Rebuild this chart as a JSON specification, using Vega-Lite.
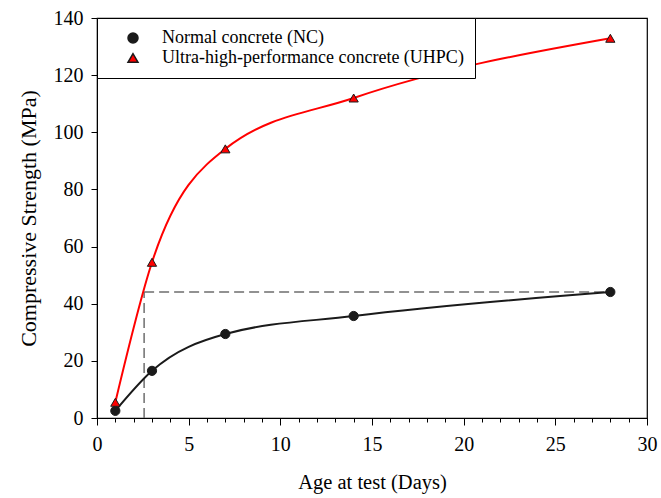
{
  "$schema": "https://vega.github.io/schema/vega-lite/v6.json",
  "width": 550,
  "height": 400,
  "autosize": {"type": "none"},
  "padding": {"left": 97, "top": 18, "right": 14, "bottom": 80},
  "background": "white",
  "config": {
    "font": "Liberation Serif",
    "view": {"stroke": "black", "strokeWidth": 1.2},
    "axis": {
      "labelFont": "Liberation Serif",
      "titleFont": "Liberation Serif",
      "labelColor": "black",
      "titleColor": "black",
      "domainColor": "black",
      "tickColor": "black",
      "titleFontWeight": "normal",
      "grid": false
    },
    "legend": {
      "orient": "top-left",
      "offset": 0,
      "padding": 11,
      "strokeColor": "black",
      "fillColor": "white",
      "cornerRadius": 0,
      "labelFont": "Liberation Serif",
      "labelFontSize": 18,
      "labelColor": "black",
      "labelLimit": 400,
      "symbolSize": 100,
      "symbolOffset": 16,
      "labelOffset": 20,
      "rowPadding": 2
    }
  },
  "data": {
    "values": [
      {"age": 1, "strength": 2.5, "type": "Normal concrete (NC)"},
      {"age": 3, "strength": 16.5, "type": "Normal concrete (NC)"},
      {"age": 7, "strength": 29.4, "type": "Normal concrete (NC)"},
      {"age": 14, "strength": 35.7, "type": "Normal concrete (NC)"},
      {"age": 28, "strength": 44.1, "type": "Normal concrete (NC)"},
      {"age": 1, "strength": 5.5, "type": "Ultra-high-performance concrete (UHPC)"},
      {"age": 3, "strength": 54.5, "type": "Ultra-high-performance concrete (UHPC)"},
      {"age": 7, "strength": 94.2, "type": "Ultra-high-performance concrete (UHPC)"},
      {"age": 14, "strength": 112, "type": "Ultra-high-performance concrete (UHPC)"},
      {"age": 28, "strength": 132.9, "type": "Ultra-high-performance concrete (UHPC)"}
    ]
  },
  "encoding": {
    "x": {
      "field": "age",
      "type": "quantitative",
      "scale": {"domain": [0, 30], "nice": false},
      "title": "Age at test (Days)",
      "axis": {
        "values": [0,1,2,3,4,5,6,7,8,9,10,11,12,13,14,15,16,17,18,19,20,21,22,23,24,25,26,27,28,29,30],
        "labelExpr": "datum.value % 5 === 0 ? datum.label : ''",
        "tickSize": {"expr": "datum.value % 5 === 0 ? 7 : 4"},
        "labelFontSize": 20,
        "labelPadding": 9,
        "titleFontSize": 20.5,
        "titlePadding": 18,
        "labelFlush": false,
        "labelOverlap": false,
        "labelBound": false
      }
    },
    "y": {
      "field": "strength",
      "type": "quantitative",
      "scale": {"domain": [0, 140], "nice": false},
      "title": "Compressive Strength (MPa)",
      "axis": {
        "values": [0, 20, 40, 60, 80, 100, 120, 140],
        "tickSize": 6,
        "labelFontSize": 20,
        "labelPadding": 8,
        "titleFontSize": 22,
        "titlePadding": 13,
        "labelFlush": false,
        "labelOverlap": false
      }
    }
  },
  "layer": [
    {
      "data": {
        "values": [
          {"age": 2.57, "age2": 2.57, "strength": 0, "strength2": 44.1},
          {"age": 2.57, "age2": 28, "strength": 44.1, "strength2": 44.1}
        ]
      },
      "mark": {"type": "rule", "color": "#6e6e6e", "strokeWidth": 1.5, "strokeDash": [10, 5]},
      "encoding": {
        "x2": {"field": "age2"},
        "y2": {"field": "strength2"}
      }
    },
    {
      "transform": [{"filter": "datum.type === 'Normal concrete (NC)'"}],
      "mark": {"type": "line", "interpolate": "monotone", "strokeWidth": 2, "color": "#1a1a1a"},
      "encoding": {}
    },
    {
      "transform": [{"filter": "datum.type === 'Ultra-high-performance concrete (UHPC)'"}],
      "mark": {"type": "line", "interpolate": "monotone", "strokeWidth": 2, "color": "#ff0000"},
      "encoding": {}
    },
    {
      "mark": {"type": "point", "filled": true, "opacity": 1, "stroke": "#1a1a1a", "strokeWidth": 1, "size": 85},
      "encoding": {
        "color": {
          "field": "type",
          "type": "nominal",
          "title": null,
          "scale": {
            "domain": ["Normal concrete (NC)", "Ultra-high-performance concrete (UHPC)"],
            "range": ["#1a1a1a", "#ff0000"]
          },
          "legend": {
            "title": null,
            "encode": {
              "legend": {"strokeWidth": {"value": 1.2}},
              "symbols": {
                "shape": {"condition": {"test": "datum.value === 'Normal concrete (NC)'", "value": "M-4.4,0H4.4M0.8,0A0.8,0.8 0 1,1 -0.8,0A0.8,0.8 0 1,1 0.8,0Z"}, "value": "M-4.4,0H4.4M0,-0.95L0.85,0.55L-0.85,0.55Z"},
                "fill": {"condition": {"test": "datum.value === 'Normal concrete (NC)'", "value": "#1a1a1a"}, "value": "#ff0000"},
                "stroke": {"condition": {"test": "datum.value === 'Normal concrete (NC)'", "value": "#1a1a1a"}, "value": "#ff0000"},
                "strokeWidth": {"value": 2},
                "opacity": {"value": 1}
              }
            }
          }
        },
        "shape": {
          "field": "type",
          "type": "nominal",
          "title": null,
          "scale": {
            "domain": ["Normal concrete (NC)", "Ultra-high-performance concrete (UHPC)"],
            "range": ["circle", "triangle-up"]
          },
          "legend": {
            "title": null,
            "encode": {
              "legend": {"strokeWidth": {"value": 1.2}},
              "symbols": {
                "shape": {"condition": {"test": "datum.value === 'Normal concrete (NC)'", "value": "M-4.4,0H4.4M0.8,0A0.8,0.8 0 1,1 -0.8,0A0.8,0.8 0 1,1 0.8,0Z"}, "value": "M-4.4,0H4.4M0,-0.95L0.85,0.55L-0.85,0.55Z"},
                "fill": {"condition": {"test": "datum.value === 'Normal concrete (NC)'", "value": "#1a1a1a"}, "value": "#ff0000"},
                "stroke": {"condition": {"test": "datum.value === 'Normal concrete (NC)'", "value": "#1a1a1a"}, "value": "#ff0000"},
                "strokeWidth": {"value": 2},
                "opacity": {"value": 1}
              }
            }
          }
        }
      }
    }
  ]
}
